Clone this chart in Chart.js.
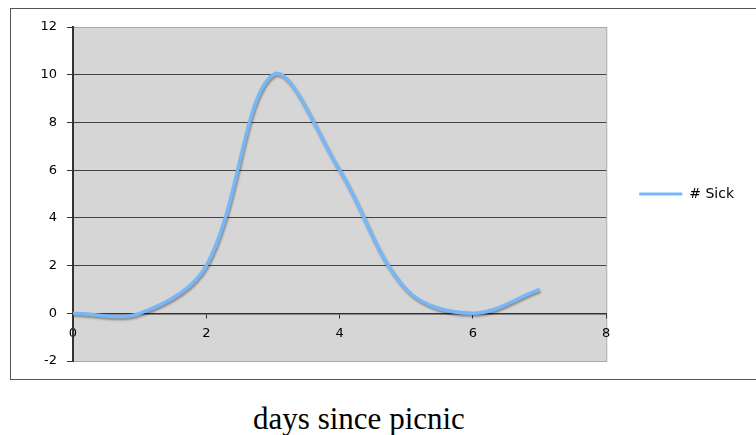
<!DOCTYPE html>
<html>
<head>
<meta charset="utf-8">
<script src="https://cdn.jsdelivr.net/npm/chart.js@4/dist/chart.umd.min.js"></script>
<style>
  body { margin: 0; background: #fff; overflow: hidden; }
  #wrap { position: relative; width: 756px; height: 435px; }
  #frame { position: absolute; left: 10px; top: 8px; width: 800px; height: 370px; border: 1.5px solid #555; }
  #chart { position: absolute; left: 0; top: 0; }
  #caption { position: absolute; left: 0; top: 403px; width: 718px; text-align: center;
             font-family: 'Liberation Serif', 'Times New Roman', serif; font-size: 31px; line-height: 31px; color: #000; }
</style>
</head>
<body>
<div id="wrap">
  <div id="frame"></div>
  <canvas id="chart" width="756" height="385"></canvas>
  <div id="caption">days since picnic</div>
</div>
<script>
// values
const days = [0, 1, 2, 3, 4, 5, 6, 7];
const sick = [0, 0, 2, 10, 6, 1, 0, 1];
const xTicks = [0, 2, 4, 6, 8];
const yTicks = [-2, 0, 2, 4, 6, 8, 10, 12];

// gray plot area with a light border
const plotBackground = {
    id: 'plotBackground',
    beforeDraw(chart) {
        const { ctx, chartArea: a } = chart;
        ctx.save();
        ctx.fillStyle = '#d6d6d6';
        ctx.fillRect(a.left, a.top, a.right - a.left, a.bottom - a.top);
        ctx.strokeStyle = '#a8a8a8';
        ctx.lineWidth = 1;
        ctx.strokeRect(a.left + 0.5, a.top + 0.5, a.right - a.left, a.bottom - a.top);
        ctx.restore();
    }
};

// soft shadow under the line, like the old Excel look
const lineShadow = {
    id: 'lineShadow',
    beforeDatasetsDraw(chart) {
        const ctx = chart.ctx;
        ctx.save();
        ctx.shadowColor = 'rgba(0, 0, 0, 0.35)';
        ctx.shadowOffsetX = 1;
        ctx.shadowOffsetY = 2;
        ctx.shadowBlur = 2;
    },
    afterDatasetsDraw(chart) {
        chart.ctx.restore();
    }
};

const tickFont = { family: 'DejaVu Sans', size: 13 };

new Chart(document.getElementById('chart'), {
    type: 'line',
    data: {
        datasets: [{
            label: '# Sick',
            data: days.map((d, i) => ({ x: d, y: sick[i] })),
            borderColor: '#76b7f8',
            backgroundColor: '#76b7f8',
            borderWidth: 3.5,
            pointRadius: 0,
            tension: 0.35,
            fill: false
        }]
    },
    options: {
        responsive: false,
        animation: false,
        layout: { padding: { left: 10, top: 27, right: 12, bottom: 24 } },
        scales: {
            x: {
                type: 'linear',
                position: { y: 0 },
                min: 0,
                max: 8,
                afterBuildTicks: scale => { scale.ticks = xTicks.map(v => ({ value: v })); },
                grid: { drawOnChartArea: false, tickLength: 4, tickColor: '#333', tickWidth: 1 },
                border: { color: '#333', width: 1.5 },
                ticks: { font: tickFont, color: '#000', padding: 9, maxRotation: 0 }
            },
            y: {
                min: -2,
                max: 12,
                afterBuildTicks: scale => { scale.ticks = yTicks.map(v => ({ value: v })); },
                afterFit: scale => { scale.width = 63; },
                grid: {
                    color: c => (c.tick && (c.tick.value === 12 || c.tick.value === -2)) ? 'rgba(0,0,0,0)' : '#444',
                    tickColor: '#333',
                    tickLength: 6,
                    lineWidth: 1
                },
                border: { color: '#333', width: 2 },
                ticks: { font: tickFont, color: '#000', padding: 10 }
            }
        },
        plugins: {
            legend: {
                position: 'right',
                maxWidth: 150,
                labels: {
                    font: { family: 'DejaVu Sans', size: 14 },
                    color: '#000',
                    boxWidth: 43,
                    boxHeight: 3,
                    padding: 33,
                    generateLabels: chart => {
                        const items = Chart.defaults.plugins.legend.labels.generateLabels(chart);
                        items.forEach(it => { it.lineWidth = 0; });
                        return items;
                    }
                }
            },
            tooltip: { enabled: false }
        }
    },
    plugins: [plotBackground, lineShadow]
});
</script>
</body>
</html>
